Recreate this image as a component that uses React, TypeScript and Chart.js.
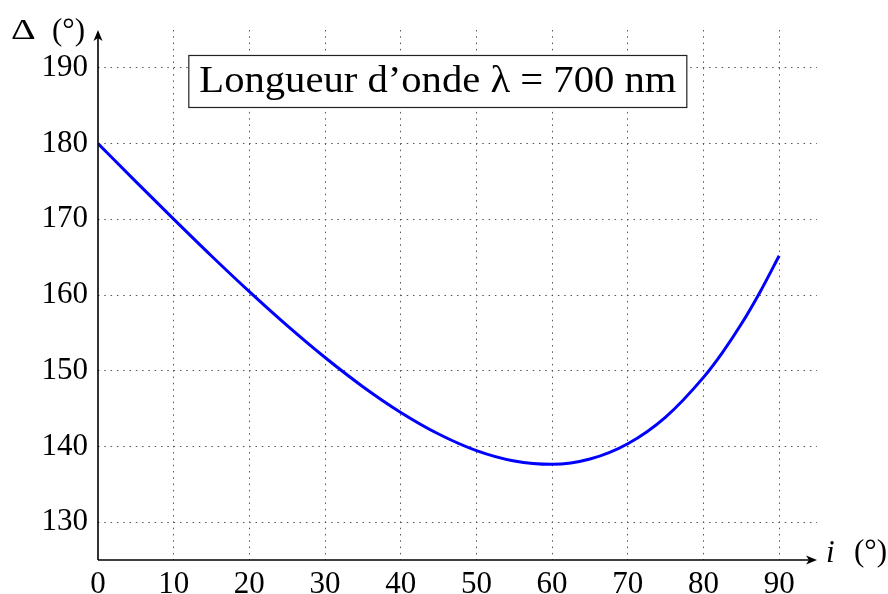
import React, { useEffect, useRef } from "react";
import { Chart, registerables } from "chart.js";

Chart.register(...registerables);

const incidence = [0, 5, 10, 15, 20, 25, 30, 35, 40, 45, 50, 55, 60, 65, 70, 75, 80, 82.5, 85, 87.5, 90];
const deviation = [180, 174.98, 170.02, 165.15, 160.44, 155.95, 151.74, 147.89, 144.49, 141.64, 139.45, 138.08, 137.64, 138.34, 140.36, 143.88, 149.12, 152.4, 156.16, 160.44, 165.18];
const xTicks = [0, 10, 20, 30, 40, 50, 60, 70, 80, 90];
const yTicks = [130, 140, 150, 160, 170, 180, 190];
const titleText = "Longueur d\u2019onde \u03bb = 700 nm";
const yAxisLabel = ["\u0394", "(\u00b0)"];
const xAxisLabel = ["i", "(\u00b0)"];

const FONT = "'Liberation Serif', 'DejaVu Serif', serif";

const decorPlugin = {
  id: "decor",
  afterDatasetsDraw(chart: any) {
    const ctx = chart.ctx;
    const { left, right, top, bottom } = chart.chartArea;
    const xs = chart.scales.x;
    const ys = chart.scales.y;
    ctx.save();
    ctx.setLineDash([]);
    // axes
    ctx.strokeStyle = "#000";
    ctx.fillStyle = "#000";
    ctx.lineWidth = 1.6;
    ctx.beginPath();
    ctx.moveTo(left, bottom);
    ctx.lineTo(right - 6, bottom);
    ctx.moveTo(left, bottom);
    ctx.lineTo(left, top + 6);
    ctx.stroke();
    ctx.beginPath();
    ctx.moveTo(right, bottom);
    ctx.lineTo(right - 11, bottom - 4.5);
    ctx.lineTo(right - 8, bottom);
    ctx.lineTo(right - 11, bottom + 4.5);
    ctx.closePath();
    ctx.fill();
    ctx.beginPath();
    ctx.moveTo(left, top);
    ctx.lineTo(left - 4.5, top + 11);
    ctx.lineTo(left, top + 8);
    ctx.lineTo(left + 4.5, top + 11);
    ctx.closePath();
    ctx.fill();

    // axis labels
    ctx.textBaseline = "alphabetic";
    ctx.textAlign = "left";
    ctx.font = `32px ${FONT}`;
    ctx.save();
    ctx.translate(11, 39);
    ctx.scale(1.2, 0.9);
    ctx.fillText(yAxisLabel[0], 0, 0);
    ctx.restore();
    ctx.font = `31px ${FONT}`;
    ctx.fillText(yAxisLabel[1], 52, 40);
    ctx.font = `italic 31px ${FONT}`;
    ctx.fillText(xAxisLabel[0], 826, 562);
    ctx.font = `31px ${FONT}`;
    ctx.fillText(xAxisLabel[1], 854, 561);

    // title box
    const cx = xs.getPixelForValue(44.9);
    const cy = ys.getPixelForValue(188.2);
    const bw = 498;
    const bh = 52;
    ctx.fillStyle = "#fff";
    ctx.fillRect(cx - bw / 2, cy - bh / 2, bw, bh);
    ctx.strokeStyle = "#222";
    ctx.lineWidth = 1.2;
    ctx.strokeRect(cx - bw / 2, cy - bh / 2, bw, bh);
    ctx.fillStyle = "#000";
    ctx.font = `38px ${FONT}`;
    ctx.textAlign = "center";
    ctx.textBaseline = "alphabetic";
    const w = ctx.measureText(titleText).width;
    const sx = 477 / w;
    ctx.save();
    ctx.translate(cx, cy + 10.5);
    ctx.scale(sx, 1);
    ctx.fillText(titleText, 0, 0);
    ctx.restore();
    ctx.restore();
  },
};

export default function App() {
  const ref = useRef<HTMLCanvasElement>(null);
  useEffect(() => {
    const chart = new Chart(ref.current as HTMLCanvasElement, {
      type: "line",
      data: {
        datasets: [
          {
            data: incidence.map((x, i) => ({ x, y: deviation[i] })),
            borderColor: "#0000ff",
            borderWidth: 3,
            pointRadius: 0,
            fill: false,
            cubicInterpolationMode: "monotone",
          },
        ],
      },
      options: {
        responsive: false,
        animation: false,
        layout: { padding: { left: 0, right: 71, top: 30, bottom: 0 } },
        plugins: { legend: { display: false }, tooltip: { enabled: false } },
        scales: {
          x: {
            type: "linear",
            min: 0,
            max: 95,
            afterFit: (s: any) => {
              s.height = 34;
            },
            afterBuildTicks: (s: any) => {
              s.ticks = xTicks.map((v) => ({ value: v }));
            },
            border: { display: false, dash: [1.5, 4.8] },
            grid: {
              color: (c: any) => (c.tick && c.tick.value === 0 ? "rgba(0,0,0,0)" : "#555"),
              lineWidth: 1,
              drawTicks: false,
            },
            ticks: {
              color: "#000",
              font: { family: FONT, size: 31 },
              padding: 6,
              maxRotation: 0,
              autoSkip: false,
            },
          },
          y: {
            type: "linear",
            min: 125,
            max: 195,
            afterFit: (s: any) => {
              s.width = 98;
            },
            afterBuildTicks: (s: any) => {
              s.ticks = yTicks.map((v) => ({ value: v }));
            },
            border: { display: false, dash: [1.5, 4.8] },
            grid: {
              color: "#555",
              lineWidth: 1,
              drawTicks: false,
            },
            ticks: {
              color: "#000",
              font: { family: FONT, size: 31 },
              padding: 10,
              autoSkip: false,
            },
          },
        },
      },
      plugins: [decorPlugin],
    } as any);
    return () => chart.destroy();
  }, []);
  return (
    <div style={{ position: "absolute", left: 0, top: 0, width: 888, height: 594, background: "#fff" }}>
      <canvas ref={ref} width={888} height={594} />
    </div>
  );
}
